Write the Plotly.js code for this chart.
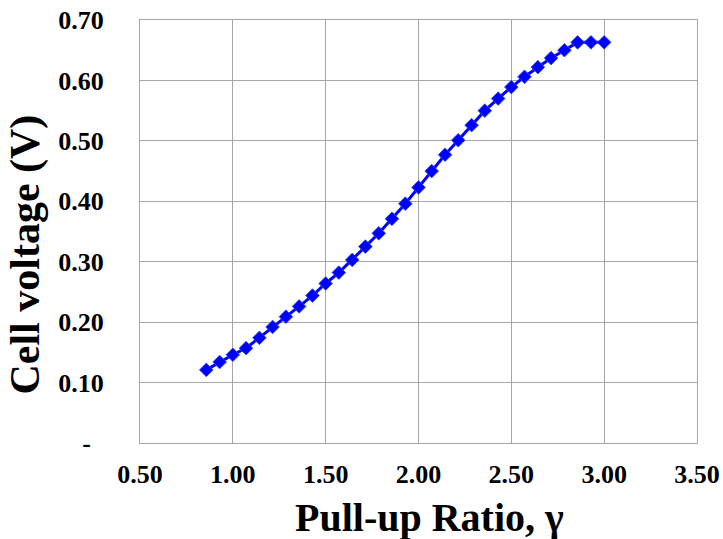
<!DOCTYPE html>
<html>
<head>
<meta charset="utf-8">
<script src="https://cdn.plot.ly/plotly-3.0.1.min.js"></script>
<style>html,body{margin:0;padding:0;background:#fff;}#chart{width:723px;height:539px;}</style>
</head>
<body>
<div id="chart"></div>
<script>
var pullUpRatio = [0.857, 0.929, 1.000, 1.071, 1.143, 1.214, 1.286, 1.357, 1.429, 1.500,
                   1.571, 1.643, 1.714, 1.786, 1.857, 1.929, 2.000, 2.071, 2.143, 2.214,
                   2.286, 2.357, 2.429, 2.500, 2.571, 2.643, 2.714, 2.786, 2.857, 2.929, 3.000];
var cellVoltage = [0.121, 0.134, 0.146, 0.157, 0.174, 0.192, 0.209, 0.226, 0.244, 0.264,
                   0.282, 0.303, 0.325, 0.347, 0.371, 0.396, 0.423, 0.450, 0.477, 0.501,
                   0.526, 0.550, 0.570, 0.589, 0.606, 0.622, 0.637, 0.650, 0.663, 0.663, 0.663];
var xTickVals = [0.5, 1.0, 1.5, 2.0, 2.5, 3.0, 3.5];
var xTickText = ['0.50', '1.00', '1.50', '2.00', '2.50', '3.00', '3.50'];
var yTickVals = [0, 0.1, 0.2, 0.3, 0.4, 0.5, 0.6, 0.7];
var yTickText = ['-\u00a0\u00a0', '0.10', '0.20', '0.30', '0.40', '0.50', '0.60', '0.70'];

var fontFam = '"Liberation Serif", "Times New Roman", serif';

var trace = {
  x: pullUpRatio,
  y: cellVoltage,
  type: 'scatter',
  mode: 'lines+markers',
  line: {color: '#0000FF', width: 3},
  marker: {symbol: 'diamond', size: 10.5, color: '#0000FF', line: {color: '#2a4fd6', width: 0.8}},
  hoverinfo: 'x+y'
};

var layout = {
  width: 723,
  height: 539,
  margin: {l: 140, r: 26, t: 20, b: 95.5, pad: 0},
  paper_bgcolor: '#ffffff',
  plot_bgcolor: '#ffffff',
  showlegend: false,
  font: {family: fontFam, color: '#000000'},
  xaxis: {
    range: [0.5, 3.5],
    tickvals: xTickVals,
    ticktext: xTickText,
    tickfont: {family: fontFam, size: 26, color: '#000000', weight: 'bold'},
    ticks: '',
    ticklabelstandoff: 8,
    showgrid: true,
    gridcolor: '#a6a6a6',
    gridwidth: 1,
    showline: true,
    linecolor: '#a6a6a6',
    linewidth: 1,
    mirror: true,
    zeroline: false,
    automargin: false
  },
  yaxis: {
    range: [0, 0.7],
    tickvals: yTickVals,
    ticktext: yTickText,
    tickfont: {family: fontFam, size: 26, color: '#000000', weight: 'bold'},
    ticks: '',
    ticklabelstandoff: 30,
    showgrid: true,
    gridcolor: '#a6a6a6',
    gridwidth: 1,
    showline: true,
    linecolor: '#a6a6a6',
    linewidth: 1,
    mirror: true,
    zeroline: false,
    automargin: false
  },
  annotations: [
    {text: 'Pull-up Ratio, γ', xref: 'paper', yref: 'paper', x: 0.52, y: -0.175, xanchor: 'center', yanchor: 'middle',
     showarrow: false, font: {family: fontFam, size: 40, color: '#000000', weight: 'bold'}},
    {text: 'Cell voltage (V)', xref: 'paper', yref: 'paper', x: -0.205, y: 0.445, xanchor: 'center', yanchor: 'middle',
     textangle: -90, showarrow: false, font: {family: fontFam, size: 42, color: '#000000', weight: 'bold'}}
  ]
};

Plotly.newPlot('chart', [trace], layout, {displayModeBar: false, staticPlot: true});
</script>
</body>
</html>
